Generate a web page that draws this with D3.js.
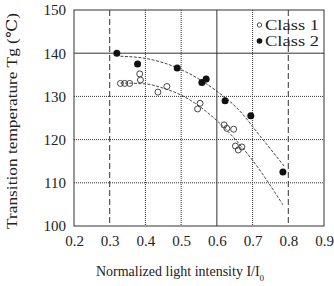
<!DOCTYPE html>
<html><head><meta charset="utf-8">
<script src="https://cdn.jsdelivr.net/npm/d3@7"></script>
<style>body{margin:0;background:#fff}svg{display:block}text{font-family:"Liberation Serif","DejaVu Serif",serif;fill:#222}</style>
</head><body><svg id="c" width="334" height="286"></svg>
<script>
const xTicks=[0.2,0.3,0.4,0.5,0.6,0.7,0.8,0.9];
const yTicks=[100,110,120,130,140,150];
const class1=[[0.33,133],[0.342,133],[0.356,133],[0.384,135.2],[0.386,133.8],[0.435,131],[0.46,132.3],[0.546,127.1],[0.553,128.4],[0.62,123.4],[0.628,122.6],[0.647,122.4],[0.652,118.5],[0.66,117.6],[0.67,118.3]];
const class2=[[0.32,140],[0.378,137.5],[0.489,136.6],[0.558,133.2],[0.57,134],[0.623,129],[0.695,125.5],[0.785,112.5]];
const fit1=[[0.33,133.1],[0.4,132.9],[0.45,131.9],[0.5,130.3],[0.6,124.4],[0.7,115.2],[0.785,104.9]];
const fit2=[[0.33,139.3],[0.4,138.8],[0.5,136.2],[0.6,131.2],[0.66,127],[0.726,120.3],[0.79,113.7]];
const legend=["Class 1","Class 2"];

const svg=d3.select("#c");
const L=74,R=324,T=10,B=226;
const x=d3.scaleLinear().domain([0.2,0.9]).range([L,R]);
const y=d3.scaleLinear().domain([100,150]).range([B,T]);

// grid
const vStyle={0.3:"6,3",0.4:"1,1",0.5:"1,1",0.6:null,0.7:"1,1",0.8:"6,3"};
xTicks.slice(1,-1).forEach(t=>{
  svg.append("line").attr("x1",x(t)).attr("x2",x(t)).attr("y1",T).attr("y2",B)
    .attr("stroke","#333").attr("stroke-width",1).attr("stroke-dasharray",vStyle[t]);
});
const hStyle={110:"1,1",120:"1,1",130:"1,1",140:null};
yTicks.slice(1,-1).forEach(t=>{
  svg.append("line").attr("x1",L).attr("x2",R).attr("y1",y(t)).attr("y2",y(t))
    .attr("stroke","#333").attr("stroke-width",1).attr("stroke-dasharray",hStyle[t]);
});
svg.append("rect").attr("x",L).attr("y",T).attr("width",R-L).attr("height",B-T)
  .attr("fill","none").attr("stroke","#333").attr("stroke-width",1);

// axes labels via d3 axes
const ax=svg.append("g").attr("transform",`translate(0,${B})`)
  .call(d3.axisBottom(x).tickValues(xTicks).tickFormat(d3.format(".1f")).tickSize(0).tickPadding(9));
const ay=svg.append("g").attr("transform",`translate(${L},0)`)
  .call(d3.axisLeft(y).tickValues(yTicks).tickSize(0).tickPadding(8));
[ax,ay].forEach(g=>{g.select(".domain").remove();g.selectAll("text").attr("font-family","Liberation Serif").attr("font-size",15).attr("fill","#222");});

// fit curves
const line=d3.line().x(d=>x(d[0])).y(d=>y(d[1])).curve(d3.curveMonotoneX);
[fit1,fit2].forEach(f=>svg.append("path").attr("d",line(f)).attr("fill","none")
  .attr("stroke","#333").attr("stroke-width",0.9).attr("stroke-dasharray","3,1.5"));

// points
svg.append("g").selectAll("circle").data(class1).join("circle")
  .attr("cx",d=>x(d[0])).attr("cy",d=>y(d[1])).attr("r",3)
  .attr("fill","none").attr("stroke","#333").attr("stroke-width",0.9);
svg.append("g").selectAll("circle").data(class2).join("circle")
  .attr("cx",d=>x(d[0])).attr("cy",d=>y(d[1])).attr("r",3.5).attr("fill","#111");

// legend
const lg=svg.append("g");
legend.forEach((s,i)=>{
  const yy=25+i*16;
  if(i===0) lg.append("circle").attr("cx",259.5).attr("cy",yy).attr("r",2.2).attr("fill","none").attr("stroke","#333").attr("stroke-width",0.9);
  else lg.append("circle").attr("cx",259.5).attr("cy",yy).attr("r",2.8).attr("fill","#111");
  lg.append("text").attr("x",265).attr("y",yy+5).attr("font-size",15).attr("textLength",54).attr("lengthAdjust","spacingAndGlyphs").text(s);
});

// titles
svg.append("text").attr("x",180).attr("y",276).attr("text-anchor","middle").attr("font-size",14)
  .html('Normalized light intensity I/I<tspan baseline-shift="sub" font-size="9">0</tspan>');
svg.append("text").attr("transform","translate(17,121) rotate(-90)").attr("text-anchor","middle").attr("font-size",15)
  .attr("textLength",216).attr("lengthAdjust","spacingAndGlyphs")
  .text("Transition temperature Tg (℃)");
</script></body></html>
